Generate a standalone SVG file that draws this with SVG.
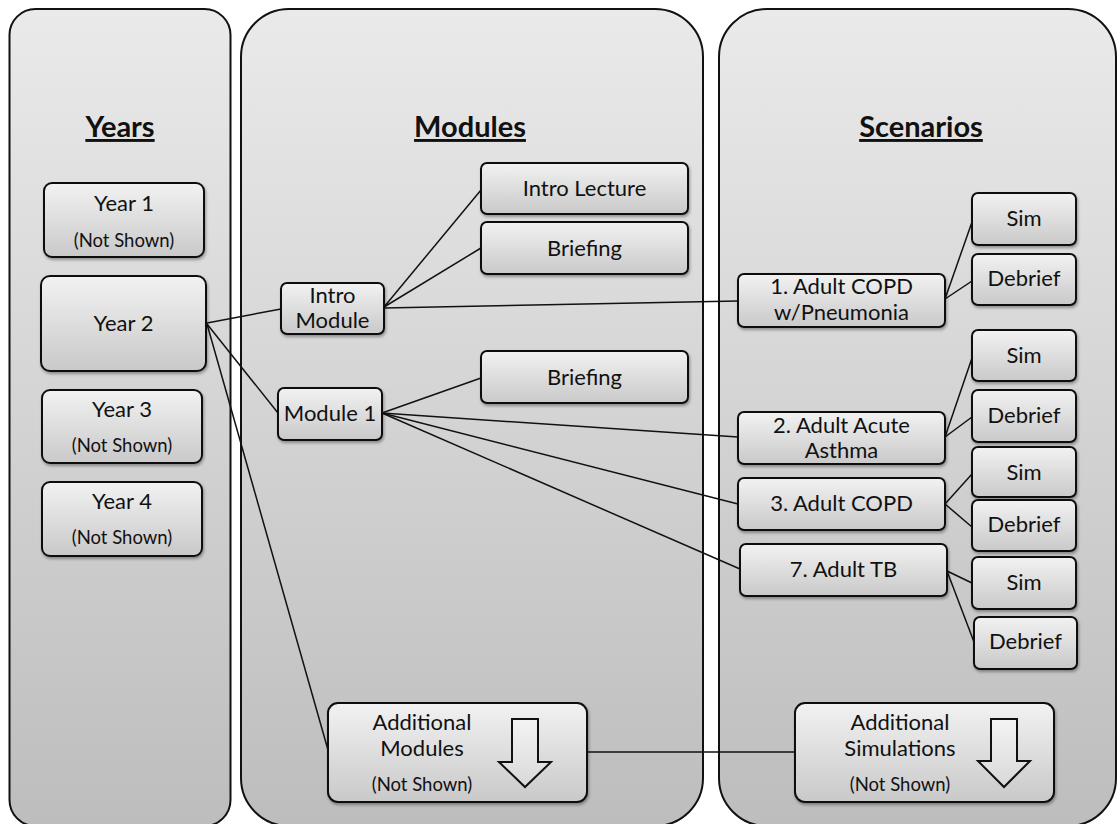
<svg xmlns="http://www.w3.org/2000/svg" width="1120" height="824" viewBox="0 0 1120 824">
  <defs>
    <linearGradient id="panelFill" x1="0" y1="0" x2="0" y2="1">
      <stop offset="0" stop-color="#eaeaea"/>
      <stop offset="1" stop-color="#bdbdbd"/>
    </linearGradient>
    <linearGradient id="boxFill" x1="0" y1="0" x2="0" y2="1">
      <stop offset="0" stop-color="#f2f2f2"/>
      <stop offset="1" stop-color="#c9c9c9"/>
    </linearGradient>
    <linearGradient id="arrowFill" x1="0" y1="0" x2="0" y2="1">
      <stop offset="0" stop-color="#f4f4f4"/>
      <stop offset="1" stop-color="#d8d8d8"/>
    </linearGradient>
    <filter id="shadow" x="-10%" y="-10%" width="120%" height="130%">
      <feDropShadow dx="1" dy="2" stdDeviation="1.5" flood-color="#000" flood-opacity="0.35"/>
    </filter>
  </defs>
  <style>
    .panel { fill: url(#panelFill); stroke: #111; stroke-width: 2; }
    .box { fill: url(#boxFill); stroke: #111; stroke-width: 2; filter: url(#shadow); }
    .arrow { fill: url(#arrowFill); stroke: #111; stroke-width: 2; stroke-linejoin: miter; }
    .link { stroke: #111; stroke-width: 1.5; fill: none; }
    .head { font-family: Lato, "Liberation Sans", sans-serif; font-weight: bold; font-size: 29px; fill: #111; text-anchor: middle; text-decoration: underline; }
    .lbl { font-family: Lato, "Liberation Sans", sans-serif; font-size: 22px; fill: #111; text-anchor: middle; }
    .sub { font-family: Lato, "Liberation Sans", sans-serif; font-size: 18.5px; fill: #111; text-anchor: middle; }
  </style>

  <rect width="1120" height="824" fill="#ffffff"/>

  <!-- column panels -->
  <g id="panels">
    <rect class="panel" x="9.5" y="9" width="221" height="817" rx="26"/>
    <rect class="panel" x="241" y="9" width="462" height="817" rx="48"/>
    <rect class="panel" x="719" y="9" width="397" height="817" rx="48"/>
    <text class="head" x="120" y="137">Years</text>
    <text class="head" x="470" y="137">Modules</text>
    <text class="head" x="921" y="137">Scenarios</text>
  </g>

  <!-- connectors -->
  <g id="connectors">
    <line class="link" x1="207" y1="323" x2="281" y2="309"/>
    <line class="link" x1="207" y1="324" x2="278" y2="413"/>
    <line class="link" x1="207" y1="324" x2="328" y2="750"/>
    <line class="link" x1="384" y1="307" x2="481" y2="190"/>
    <line class="link" x1="384" y1="307" x2="481" y2="248"/>
    <line class="link" x1="384" y1="308" x2="738" y2="301"/>
    <line class="link" x1="382" y1="413" x2="481" y2="378"/>
    <line class="link" x1="382" y1="413" x2="738" y2="437"/>
    <line class="link" x1="382" y1="413" x2="738" y2="504"/>
    <line class="link" x1="382" y1="413" x2="740" y2="569"/>
    <line class="link" x1="945" y1="299" x2="972" y2="222"/>
    <line class="link" x1="945" y1="299" x2="972" y2="281"/>
    <line class="link" x1="945" y1="437" x2="972" y2="358"/>
    <line class="link" x1="945" y1="437" x2="972" y2="417"/>
    <line class="link" x1="945" y1="504" x2="972" y2="474"/>
    <line class="link" x1="945" y1="504" x2="972" y2="527"/>
    <line class="link" x1="947" y1="571" x2="972" y2="583"/>
    <line class="link" x1="947" y1="571" x2="974" y2="642"/>
    <line class="link" x1="587" y1="752" x2="795" y2="752"/>
  </g>

  <!-- years -->
  <g id="year-1">
    <rect class="box" x="44" y="183" width="160" height="74" rx="8"/>
    <text class="lbl" x="124" y="211">Year 1</text>
    <text class="sub" x="124" y="247">(Not Shown)</text>
  </g>
  <g id="year-2">
    <rect class="box" x="41" y="276" width="165" height="95" rx="9"/>
    <text class="lbl" x="123.5" y="331">Year 2</text>
  </g>
  <g id="year-3">
    <rect class="box" x="42" y="390" width="160" height="73" rx="8"/>
    <text class="lbl" x="122" y="417">Year 3</text>
    <text class="sub" x="122" y="452">(Not Shown)</text>
  </g>
  <g id="year-4">
    <rect class="box" x="42" y="482" width="160" height="74" rx="8"/>
    <text class="lbl" x="122" y="509">Year 4</text>
    <text class="sub" x="122" y="544">(Not Shown)</text>
  </g>

  <!-- modules -->
  <g id="intro-module">
    <rect class="box" x="281" y="283" width="103" height="51" rx="6"/>
    <text class="lbl" x="332.5" y="303">Intro</text>
    <text class="lbl" x="332.5" y="328">Module</text>
  </g>
  <g id="module-1">
    <rect class="box" x="278" y="388" width="104" height="52" rx="6"/>
    <text class="lbl" x="330" y="421">Module 1</text>
  </g>
  <g id="intro-lecture">
    <rect class="box" x="481" y="163" width="207" height="51" rx="6"/>
    <text class="lbl" x="584.5" y="196">Intro Lecture</text>
  </g>
  <g id="intro-briefing">
    <rect class="box" x="481" y="222" width="207" height="52" rx="6"/>
    <text class="lbl" x="584.5" y="256">Briefing</text>
  </g>
  <g id="module-1-briefing">
    <rect class="box" x="481" y="351" width="207" height="52" rx="6"/>
    <text class="lbl" x="584.5" y="385">Briefing</text>
  </g>
  <g id="additional-modules">
    <rect class="box" x="328" y="703" width="259" height="99" rx="10"/>
    <text class="lbl" x="422" y="730">Additional</text>
    <text class="lbl" x="422" y="756">Modules</text>
    <text class="sub" x="422" y="791">(Not Shown)</text>
    <path class="arrow" d="M512 719 H538 V762 H551 L525 787 L499 762 H512 Z"/>
  </g>

  <!-- scenarios -->
  <g id="scenario-1">
    <rect class="box" x="738" y="274" width="207" height="53" rx="6"/>
    <text class="lbl" x="841.5" y="294">1. Adult COPD</text>
    <text class="lbl" x="841.5" y="320">w/Pneumonia</text>
  </g>
  <g id="scenario-2">
    <rect class="box" x="738" y="412" width="207" height="52" rx="6"/>
    <text class="lbl" x="841.5" y="433">2. Adult Acute</text>
    <text class="lbl" x="841.5" y="458">Asthma</text>
  </g>
  <g id="scenario-3">
    <rect class="box" x="738" y="478" width="207" height="52" rx="6"/>
    <text class="lbl" x="841.5" y="511">3. Adult COPD</text>
  </g>
  <g id="scenario-7">
    <rect class="box" x="740" y="544" width="207" height="52" rx="6"/>
    <text class="lbl" x="843.5" y="577">7. Adult TB</text>
  </g>
  <g id="sim-1">
    <rect class="box" x="972" y="193" width="104" height="52" rx="6"/>
    <text class="lbl" x="1024" y="226">Sim</text>
  </g>
  <g id="debrief-1">
    <rect class="box" x="972" y="254" width="104" height="51" rx="6"/>
    <text class="lbl" x="1024" y="286">Debrief</text>
  </g>
  <g id="sim-2">
    <rect class="box" x="972" y="330" width="104" height="51" rx="6"/>
    <text class="lbl" x="1024" y="363">Sim</text>
  </g>
  <g id="debrief-2">
    <rect class="box" x="972" y="390" width="104" height="52" rx="6"/>
    <text class="lbl" x="1024" y="423">Debrief</text>
  </g>
  <g id="sim-3">
    <rect class="box" x="972" y="447" width="104" height="50" rx="6"/>
    <text class="lbl" x="1024" y="480">Sim</text>
  </g>
  <g id="debrief-3">
    <rect class="box" x="972" y="500" width="104" height="51" rx="6"/>
    <text class="lbl" x="1024" y="532">Debrief</text>
  </g>
  <g id="sim-4">
    <rect class="box" x="972" y="557" width="104" height="52" rx="6"/>
    <text class="lbl" x="1024" y="590">Sim</text>
  </g>
  <g id="debrief-4">
    <rect class="box" x="974" y="617" width="103" height="52" rx="6"/>
    <text class="lbl" x="1025.5" y="649">Debrief</text>
  </g>
  <g id="additional-simulations">
    <rect class="box" x="795" y="703" width="259" height="99" rx="10"/>
    <text class="lbl" x="900" y="730">Additional</text>
    <text class="lbl" x="900" y="756">Simulations</text>
    <text class="sub" x="900" y="791">(Not Shown)</text>
    <path class="arrow" d="M991 719 H1017 V761 H1030 L1004 787 L978 761 H991 Z"/>
  </g>
</svg>
